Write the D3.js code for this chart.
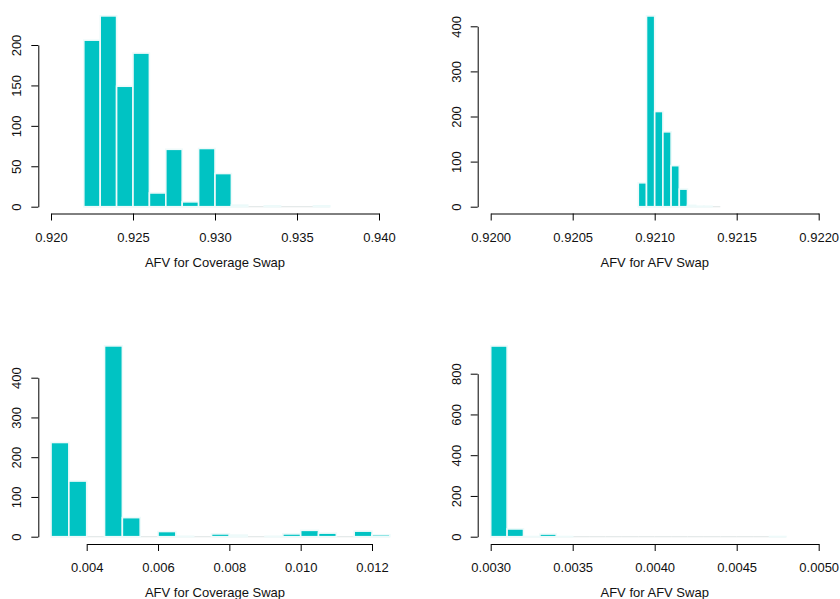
<!DOCTYPE html>
<html>
<head>
<meta charset="utf-8">
<script src="https://cdn.jsdelivr.net/npm/d3@7"></script>
<style>
  html, body { margin: 0; padding: 0; background: #fff; }
  svg { display: block; font-family: "Liberation Sans", Arial, sans-serif; }
</style>
</head>
<body>
<svg id="chart" width="840" height="599"></svg>
<script>
// Histogram counts and bin breaks for each of the four distributions
const coverageAfvBreaks = [0.922, 0.923, 0.924, 0.925, 0.926, 0.927, 0.928, 0.929, 0.930,
  0.931, 0.932, 0.933, 0.934, 0.935, 0.936, 0.937];
const coverageAfvCounts = [206, 236, 149, 190, 17, 71, 6, 72, 41, 2, 0, 1, 0, 0, 1];
const coverageAfvTicks = [0.920, 0.925, 0.930, 0.935, 0.940];
const coverageAfvTickLabels = ["0.920", "0.925", "0.930", "0.935", "0.940"];
const coverageAfvCountTicks = [0, 50, 100, 150, 200];

const afvSwapAfvBreaks = [0.92090, 0.92095, 0.92100, 0.92105, 0.92110, 0.92115,
  0.92120, 0.92125, 0.92130, 0.92135, 0.92140];
const afvSwapAfvCounts = [53, 423, 211, 166, 91, 39, 3, 1, 1, 0];
const afvSwapAfvTicks = [0.9200, 0.9205, 0.9210, 0.9215, 0.9220];
const afvSwapAfvTickLabels = ["0.9200", "0.9205", "0.9210", "0.9215", "0.9220"];
const afvSwapAfvCountTicks = [0, 100, 200, 300, 400];

const coverageSpreadBreaks = [0.0030, 0.0035, 0.0040, 0.0045, 0.0050, 0.0055, 0.0060,
  0.0065, 0.0070, 0.0075, 0.0080, 0.0085, 0.0090, 0.0095, 0.0100, 0.0105, 0.0110,
  0.0115, 0.0120, 0.0125];
const coverageSpreadCounts = [237, 140, 0, 480, 48, 0, 13, 1, 0, 7, 4, 0, 1, 7, 16, 9, 0, 14, 5];
const coverageSpreadTicks = [0.004, 0.006, 0.008, 0.010, 0.012];
const coverageSpreadTickLabels = ["0.004", "0.006", "0.008", "0.010", "0.012"];
const coverageSpreadCountTicks = [0, 100, 200, 300, 400];

const afvSwapSpreadBreaks = [0.0030, 0.0031, 0.0032, 0.0033, 0.0034, 0.0035, 0.0036,
  0.0037, 0.0038, 0.0039, 0.0040, 0.0041, 0.0042, 0.0043, 0.0044, 0.0045, 0.0046,
  0.0047, 0.0048];
const afvSwapSpreadCounts = [936, 38, 1, 13, 1, 0, 0, 0, 0, 0, 0, 0, 0, 0, 0, 0, 0, 1];
const afvSwapSpreadTicks = [0.0030, 0.0035, 0.0040, 0.0045, 0.0050];
const afvSwapSpreadTickLabels = ["0.0030", "0.0035", "0.0040", "0.0045", "0.0050"];
const afvSwapSpreadCountTicks = [0, 200, 400, 600, 800];

const xTitles = ["AFV for Coverage Swap", "AFV for AFV Swap",
  "AFV for Coverage Swap", "AFV for AFV Swap"];

const BAR_FILL = "#00c3c3";
const BAR_EDGE = "#eefafa";
const ZERO_RULE = "#e3e8e8";

// Panel geometry: x pixel range of the tick span, y pixel range of the count span,
// and the horizontal centre of the plotting region for the axis title
const panels = [
  { breaks: coverageAfvBreaks, counts: coverageAfvCounts, xTicks: coverageAfvTicks,
    xLabels: coverageAfvTickLabels, yTicks: coverageAfvCountTicks, title: xTitles[0],
    xRange: [51, 379], yRange: [206.7, 45], axisY: 213.5, axisX: 38.3, titleX: 215 },
  { breaks: afvSwapAfvBreaks, counts: afvSwapAfvCounts, xTicks: afvSwapAfvTicks,
    xLabels: afvSwapAfvTickLabels, yTicks: afvSwapAfvCountTicks, title: xTitles[1],
    xRange: [490.7, 818.7], yRange: [206.7, 26.3], axisY: 213.5, axisX: 477.7, titleX: 654.7 },
  { breaks: coverageSpreadBreaks, counts: coverageSpreadCounts, xTicks: coverageSpreadTicks,
    xLabels: coverageSpreadTickLabels, yTicks: coverageSpreadCountTicks, title: xTitles[2],
    xRange: [86.7, 372], yRange: [536.7, 377.7], axisY: 544, axisX: 38.3, titleX: 215 },
  { breaks: afvSwapSpreadBreaks, counts: afvSwapSpreadCounts, xTicks: afvSwapSpreadTicks,
    xLabels: afvSwapSpreadTickLabels, yTicks: afvSwapSpreadCountTicks, title: xTitles[3],
    xRange: [490.7, 818.7], yRange: [536.7, 373.7], axisY: 544, axisX: 477.7, titleX: 654.7 }
];

const svg = d3.select("#chart");

panels.forEach(p => {
  const x = d3.scaleLinear()
    .domain([p.xTicks[0], p.xTicks[p.xTicks.length - 1]])
    .range(p.xRange);
  const y = d3.scaleLinear()
    .domain([0, p.yTicks[p.yTicks.length - 1]])
    .range(p.yRange);

  const bins = p.counts.map((c, i) => ({ x0: p.breaks[i], x1: p.breaks[i + 1], count: c }));
  const g = svg.append("g");

  // faint baseline under every bin (empty bins show only this)
  g.selectAll("line.base")
    .data(bins)
    .join("line")
    .attr("class", "base")
    .attr("x1", d => x(d.x0))
    .attr("x2", d => x(d.x1))
    .attr("y1", y(0))
    .attr("y2", y(0))
    .attr("stroke", ZERO_RULE)
    .attr("stroke-width", 1.2);

  g.selectAll("rect")
    .data(bins.filter(d => d.count > 0))
    .join("rect")
    .attr("x", d => x(d.x0))
    .attr("width", d => x(d.x1) - x(d.x0))
    .attr("y", d => y(d.count))
    .attr("height", d => y(0) - y(d.count))
    .attr("fill", BAR_FILL)
    .attr("stroke", BAR_EDGE)
    .attr("stroke-width", 1.6);

  // x axis
  const xAxis = d3.axisBottom(x)
    .tickValues(p.xTicks)
    .tickFormat((d, i) => p.xLabels[i])
    .tickSizeInner(7)
    .tickSizeOuter(0);
  svg.append("g")
    .attr("transform", `translate(0,${p.axisY})`)
    .call(xAxis)
    .call(a => a.select(".domain").attr("stroke", "#000"))
    .call(a => a.selectAll(".tick line").attr("stroke", "#000"))
    .call(a => a.selectAll(".tick text")
      .attr("y", 28).attr("dy", 0)
      .attr("font-size", 13)
      .attr("fill", "#111")
      .attr("font-family", "Liberation Sans, Arial, sans-serif"));

  // y axis with labels running parallel to the axis
  const yAxis = d3.axisLeft(y)
    .tickValues(p.yTicks)
    .tickSizeInner(7)
    .tickSizeOuter(0);
  svg.append("g")
    .attr("transform", `translate(${p.axisX},0)`)
    .call(yAxis)
    .call(a => a.select(".domain").attr("stroke", "#000"))
    .call(a => a.selectAll(".tick line").attr("stroke", "#000"))
    .call(a => a.selectAll(".tick text")
      .attr("x", 0).attr("dy", 0)
      .attr("transform", "translate(-17,0) rotate(-90)")
      .attr("text-anchor", "middle")
      .attr("font-size", 13)
      .attr("fill", "#111")
      .attr("font-family", "Liberation Sans, Arial, sans-serif"));

  // x axis title
  svg.append("text")
    .attr("x", p.titleX)
    .attr("y", p.axisY + 53)
    .attr("text-anchor", "middle")
    .attr("font-size", 13)
    .attr("fill", "#111")
    .text(p.title);
});
</script>
</body>
</html>
